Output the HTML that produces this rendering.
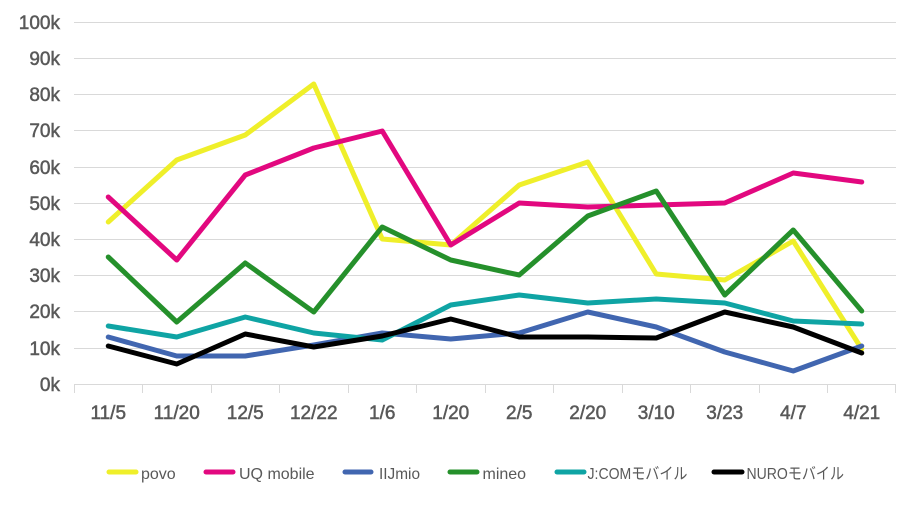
<!DOCTYPE html>
<html><head><meta charset="utf-8"><style>
html,body{margin:0;padding:0;background:#fff;}
svg{display:block;}
text{font-family:"Liberation Sans","Noto Sans CJK JP",sans-serif;fill:#595959;}
</style></head><body>
<svg width="906" height="513" viewBox="0 0 906 513" xmlns="http://www.w3.org/2000/svg">
<g stroke="#d9d9d9" stroke-width="1">
<line x1="74" y1="22.5" x2="896" y2="22.5"/>
<line x1="74" y1="58.5" x2="896" y2="58.5"/>
<line x1="74" y1="94.5" x2="896" y2="94.5"/>
<line x1="74" y1="130.5" x2="896" y2="130.5"/>
<line x1="74" y1="167.5" x2="896" y2="167.5"/>
<line x1="74" y1="203.5" x2="896" y2="203.5"/>
<line x1="74" y1="239.5" x2="896" y2="239.5"/>
<line x1="74" y1="275.5" x2="896" y2="275.5"/>
<line x1="74" y1="311.5" x2="896" y2="311.5"/>
<line x1="74" y1="348.5" x2="896" y2="348.5"/>
<line x1="74" y1="384.5" x2="896" y2="384.5"/>
<line x1="74.5" y1="384" x2="74.5" y2="393"/>
<line x1="142.5" y1="384" x2="142.5" y2="393"/>
<line x1="211.5" y1="384" x2="211.5" y2="393"/>
<line x1="279.5" y1="384" x2="279.5" y2="393"/>
<line x1="348.5" y1="384" x2="348.5" y2="393"/>
<line x1="416.5" y1="384" x2="416.5" y2="393"/>
<line x1="485.5" y1="384" x2="485.5" y2="393"/>
<line x1="553.5" y1="384" x2="553.5" y2="393"/>
<line x1="622.5" y1="384" x2="622.5" y2="393"/>
<line x1="690.5" y1="384" x2="690.5" y2="393"/>
<line x1="759.5" y1="384" x2="759.5" y2="393"/>
<line x1="827.5" y1="384" x2="827.5" y2="393"/>
<line x1="895.5" y1="384" x2="895.5" y2="393"/>
</g>
<g font-size="19" text-anchor="end" stroke="#595959" stroke-width="0.5">
<text x="60" y="29">100k</text>
<text x="60" y="65">90k</text>
<text x="60" y="101">80k</text>
<text x="60" y="137">70k</text>
<text x="60" y="174">60k</text>
<text x="60" y="210">50k</text>
<text x="60" y="246">40k</text>
<text x="60" y="282">30k</text>
<text x="60" y="318">20k</text>
<text x="60" y="355">10k</text>
<text x="60" y="391">0k</text>
</g>
<g font-size="19" text-anchor="middle" stroke="#595959" stroke-width="0.5">
<text x="108.25" y="419">11/5</text>
<text x="176.75" y="419">11/20</text>
<text x="245.25" y="419">12/5</text>
<text x="313.75" y="419">12/22</text>
<text x="382.25" y="419">1/6</text>
<text x="450.75" y="419">1/20</text>
<text x="519.25" y="419">2/5</text>
<text x="587.75" y="419">2/20</text>
<text x="656.25" y="419">3/10</text>
<text x="724.75" y="419">3/23</text>
<text x="793.25" y="419">4/7</text>
<text x="861.75" y="419">4/21</text>
</g>
<g fill="none" stroke-width="5" stroke-linejoin="round" stroke-linecap="round">
<polyline stroke="#EFEF2A" points="108.25,222 176.75,160 245.25,135 313.75,84 382.25,239 450.75,245 519.25,185 587.75,162 656.25,274 724.75,280 793.25,241 861.75,349"/>
<polyline stroke="#E2087F" points="108.25,197 176.75,260 245.25,175 313.75,148 382.25,131 450.75,245 519.25,203 587.75,207 656.25,205 724.75,203 793.25,173 861.75,182"/>
<polyline stroke="#4166B0" points="108.25,337 176.75,356 245.25,356 313.75,345 382.25,333 450.75,339 519.25,333 587.75,312 656.25,327 724.75,352 793.25,371 861.75,346"/>
<polyline stroke="#25902B" points="108.25,257 176.75,322 245.25,263 313.75,312 382.25,227 450.75,260 519.25,275 587.75,216 656.25,191 724.75,295 793.25,230 861.75,311"/>
<polyline stroke="#0FA4A4" points="108.25,326 176.75,337 245.25,317 313.75,333 382.25,340 450.75,305 519.25,295 587.75,303 656.25,299 724.75,303 793.25,321 861.75,324"/>
<polyline stroke="#000000" points="108.25,346 176.75,364 245.25,334 313.75,347 382.25,336 450.75,319 519.25,337 587.75,337 656.25,338 724.75,312 793.25,327 861.75,353"/>
</g>
<g stroke-width="5" stroke-linecap="round">
<line x1="109" y1="472" x2="136" y2="472" stroke="#EFEF2A"/>
<line x1="206" y1="472" x2="233" y2="472" stroke="#E2087F"/>
<line x1="345" y1="472" x2="371" y2="472" stroke="#4166B0"/>
<line x1="450" y1="472" x2="477" y2="472" stroke="#25902B"/>
<line x1="557" y1="472" x2="584" y2="472" stroke="#0FA4A4"/>
<line x1="714" y1="472" x2="742" y2="472" stroke="#000000"/>
</g>
<g font-size="16">
<text x="141" y="479">povo</text>
<text x="239" y="479">UQ mobile</text>
<text x="379" y="479" textLength="41" lengthAdjust="spacingAndGlyphs">IIJmio</text>
<text x="482.5" y="479">mineo</text>
<text x="587.5" y="479" textLength="100" lengthAdjust="spacingAndGlyphs">J:COMモバイル</text>
<text x="746.5" y="479" textLength="97.5" lengthAdjust="spacingAndGlyphs">NUROモバイル</text>
</g>
</svg>
</body></html>
